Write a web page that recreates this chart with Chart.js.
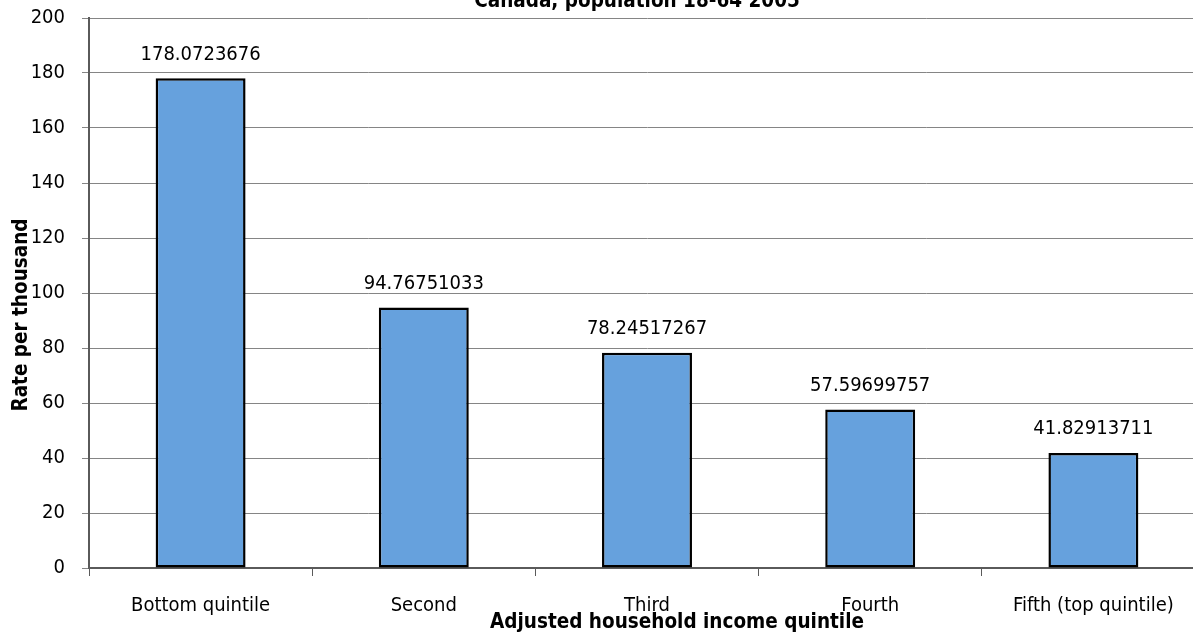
<!DOCTYPE html>
<html>
<head>
<meta charset="utf-8">
<script src="https://cdn.jsdelivr.net/npm/chart.js@4.4.1/dist/chart.umd.min.js"></script>
<style>
  html, body { margin: 0; padding: 0; background: #fff; overflow: hidden; }
  body { width: 1193px; height: 634px; position: relative; }
  #wrap { position: absolute; left: 0; top: -20px; width: 1215px; height: 654px; }
</style>
</head>
<body>
<div id="wrap"><canvas id="c" width="1215" height="654"></canvas></div>
<script>
// Rate per thousand, population 18-64, by adjusted household income quintile
const categories = ["Bottom quintile", "Second", "Third", "Fourth", "Fifth (top quintile)"];
const rates = [178.0723676, 94.76751033, 78.24517267, 57.59699757, 41.82913711];
const rateLabels = ["178.0723676", "94.76751033", "78.24517267", "57.59699757", "41.82913711"];
const yTicks = [0, 20, 40, 60, 80, 100, 120, 140, 160, 180, 200];

const chartTitle = "Canada, population 18-64 2005";
const xTitle = "Adjusted household income quintile";
const yTitle = "Rate per thousand";

const FONT = "'DejaVu Sans Condensed', 'DejaVu Sans', sans-serif";

// value labels above each bar
const valueLabels = {
  id: 'valueLabels',
  afterDatasetsDraw(chart) {
    const ctx = chart.ctx;
    const meta = chart.getDatasetMeta(0);
    ctx.save();
    ctx.font = "20px " + FONT;
    ctx.fillStyle = "#000";
    ctx.textAlign = "center";
    ctx.textBaseline = "middle";
    meta.data.forEach((bar, i) => {
      ctx.fillText(rateLabels[i], bar.x, bar.y - 24);
    });
    ctx.restore();
  }
};

// chart title and axis titles
const titles = {
  id: 'titles',
  afterDraw(chart) {
    const ctx = chart.ctx;
    ctx.save();
    ctx.font = "bold 20.5px " + FONT;
    ctx.fillStyle = "#000";
    ctx.textAlign = "center";
    ctx.textBaseline = "alphabetic";
    ctx.fillText(chartTitle, 637, 27);
    ctx.fillText(xTitle, 677, 648);
    ctx.translate(27, 335);
    ctx.rotate(-Math.PI / 2);
    ctx.fillText(yTitle, 0, 0);
    ctx.restore();
  }
};

new Chart(document.getElementById('c'), {
  type: 'bar',
  data: {
    labels: categories,
    datasets: [{
      data: rates,
      backgroundColor: '#66a1dd',
      borderColor: '#000000',
      borderWidth: 2.5,
      borderSkipped: false,
      barPercentage: 0.403,
      categoryPercentage: 1.0
    }]
  },
  options: {
    responsive: false,
    animation: false,
    devicePixelRatio: 1,
    layout: { padding: { top: 38, right: 10, left: 0, bottom: 0 } },
    plugins: {
      legend: { display: false },
      tooltip: { enabled: false },
      title: { display: false }
    },
    scales: {
      x: {
        afterFit(scale) { scale.height = 66; },
        grid: {
          offset: true,
          drawOnChartArea: false,
          drawTicks: true,
          tickLength: 8,
          color: '#5a5a5a',
          lineWidth: 1
        },
        border: { display: true, color: '#5a5a5a', width: 2 },
        ticks: {
          color: '#000',
          padding: 18,
          maxRotation: 0,
          autoSkip: false,
          font: { family: FONT, size: 20 }
        }
      },
      y: {
        min: 0,
        max: 200,
        afterFit(scale) { scale.width = 89; },
        afterBuildTicks(scale) { scale.ticks = yTicks.map(v => ({ value: v })); },
        grid: {
          color: '#858585',
          lineWidth: 1,
          drawTicks: true,
          tickLength: 7
        },
        border: { display: true, color: '#5a5a5a', width: 2 },
        ticks: {
          color: '#000',
          padding: 17,
          font: { family: FONT, size: 20 }
        }
      }
    }
  },
  plugins: [valueLabels, titles]
});
</script>
</body>
</html>
